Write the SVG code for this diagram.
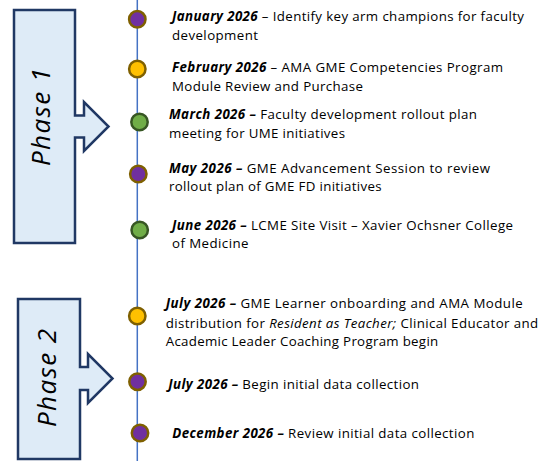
<svg xmlns="http://www.w3.org/2000/svg" width="542" height="461" viewBox="0 0 542 461">
  <style>
    .phase { fill: #DEEBF7; stroke: #203864; stroke-width: 2.5; stroke-linejoin: miter; }
    .phase-label { font-family: "Open Sans", "Liberation Sans", sans-serif; font-style: italic; font-size: 26px; fill: #000; text-anchor: middle; }
    .spine { stroke: #4472C4; stroke-width: 1.5; fill: none; }
    .dot { stroke-width: 2.5; }
    .purple { fill: #7030A0; stroke: #7F6000; }
    .yellow { fill: #FFC000; stroke: #7F6000; }
    .green { fill: #70AD47; stroke: #375623; }
    .ev { font-family: "Open Sans", "Liberation Sans", sans-serif; font-size: 13.3px; fill: #000; }
    .b { font-weight: bold; font-style: italic; }
    .i { font-style: italic; }
  </style>

  <!-- phase arrows -->
  <g id="phase1">
    <path class="phase" d="M14,10 H75 V115.5 H84 V102 L108.5,126.5 L84,151 V137.5 H75 V243 H14 Z"/>
    <text class="phase-label" transform="translate(50,117) rotate(-90)" textLength="98" lengthAdjust="spacing">Phase 1</text>
  </g>
  <g id="phase2">
    <path class="phase" d="M18,299 H80 V367 H88 V354 L112.5,378.5 L88,403 V390 H80 V459 H18 Z"/>
    <text class="phase-label" transform="translate(55.5,378) rotate(-90)" textLength="98" lengthAdjust="spacing">Phase 2</text>
  </g>

  <!-- timeline spine -->
  <g id="connectors">
    <line class="spine" x1="137.3" y1="0" x2="137.3" y2="461"/>
  </g>

  <!-- milestones -->
  <g id="jan-2026">
    <circle class="dot purple" cx="137.3" cy="19.3" r="8.2"/>
    <text class="ev" x="172" y="21" textLength="352" lengthAdjust="spacing"><tspan class="b">January 2026</tspan> – Identify key arm champions for faculty</text>
    <text class="ev" x="172" y="40" textLength="86" lengthAdjust="spacing">development</text>
  </g>
  <g id="feb-2026">
    <circle class="dot yellow" cx="137.3" cy="69" r="8.2"/>
    <text class="ev" x="172" y="72" textLength="331" lengthAdjust="spacing"><tspan class="b">February 2026</tspan> – AMA GME Competencies Program</text>
    <text class="ev" x="172" y="91" textLength="191" lengthAdjust="spacing">Module Review and Purchase</text>
  </g>
  <g id="mar-2026">
    <circle class="dot green" cx="139.5" cy="122" r="8.2"/>
    <text class="ev" x="169" y="119.3" textLength="308" lengthAdjust="spacing"><tspan class="b">March 2026 –</tspan> Faculty development rollout plan</text>
    <text class="ev" x="169" y="137.5" textLength="176" lengthAdjust="spacing">meeting for UME initiatives</text>
  </g>
  <g id="may-2026">
    <circle class="dot purple" cx="138.3" cy="174" r="8.2"/>
    <text class="ev" x="169" y="172.7" textLength="321" lengthAdjust="spacing"><tspan class="b">May 2026 –</tspan> GME Advancement Session to review</text>
    <text class="ev" x="169" y="191" textLength="212.5" lengthAdjust="spacing">rollout plan of GME FD initiatives</text>
  </g>
  <g id="jun-2026">
    <circle class="dot green" cx="139.7" cy="230" r="8.2"/>
    <text class="ev" x="172" y="230" textLength="341" lengthAdjust="spacing"><tspan class="b">June 2026 –</tspan> LCME Site Visit – Xavier Ochsner College</text>
    <text class="ev" x="172" y="248" textLength="76.5" lengthAdjust="spacing">of Medicine</text>
  </g>
  <g id="jul-2026-onboarding">
    <circle class="dot yellow" cx="137.3" cy="316" r="8.2"/>
    <text class="ev" x="165.7" y="308.3" textLength="357" lengthAdjust="spacing"><tspan class="b">July 2026 –</tspan> GME Learner onboarding and AMA Module</text>
    <text class="ev" x="165.7" y="327.5" textLength="372.5" lengthAdjust="spacing">distribution for <tspan class="i">Resident as Teacher;</tspan> Clinical Educator and</text>
    <text class="ev" x="165.7" y="346" textLength="272.5" lengthAdjust="spacing">Academic Leader Coaching Program begin</text>
  </g>
  <g id="jul-2026-data">
    <circle class="dot purple" cx="137.5" cy="381.7" r="8.2"/>
    <text class="ev" x="168.3" y="389.3" textLength="250.7" lengthAdjust="spacing"><tspan class="b">July 2026 –</tspan> Begin initial data collection</text>
  </g>
  <g id="dec-2026">
    <circle class="dot purple" cx="140" cy="433" r="8.2"/>
    <text class="ev" x="172.3" y="437.7" textLength="302" lengthAdjust="spacing"><tspan class="b">December 2026 –</tspan> Review initial data collection</text>
  </g>
</svg>
